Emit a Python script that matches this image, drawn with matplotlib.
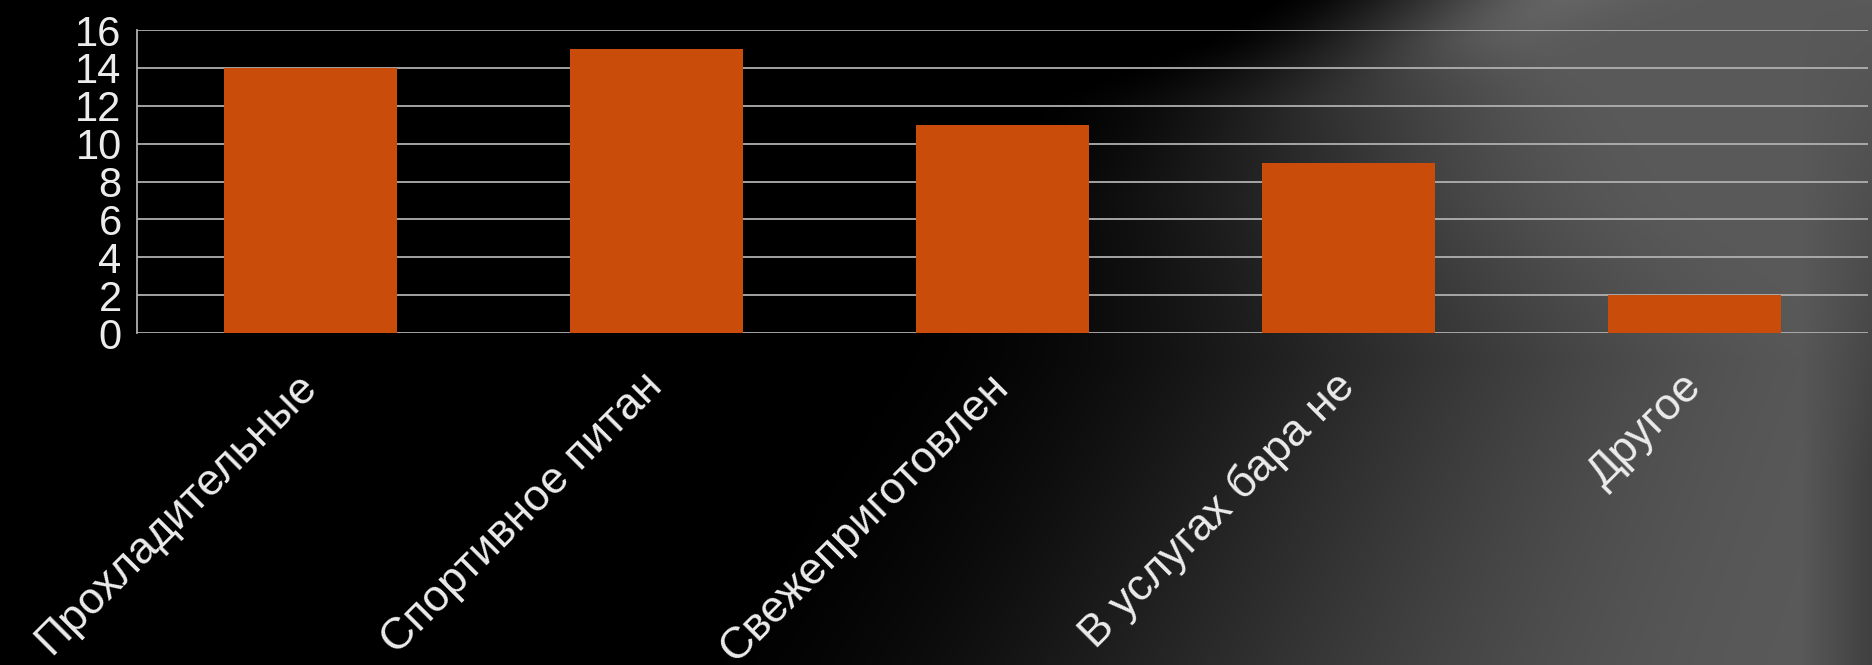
import numpy as np
import matplotlib
matplotlib.use('Agg')
import matplotlib.pyplot as plt

# data
categories = ['Прохладительные', 'Спортивное питан', 'Свежеприготовлен',
              'В услугах бара не', 'Другое']
values = [14, 15, 11, 9, 2]
y_ticks = [0, 2, 4, 6, 8, 10, 12, 14, 16]

plt.rcParams['font.family'] = ['Liberation Sans', 'DejaVu Sans']

W, H = 1872, 665
fig = plt.figure(figsize=(W / 100, H / 100), dpi=100)

# background: black on the left, soft grey gradient to the right
yy, xx = np.mgrid[0:H, 0:W].astype(float)
x0 = np.interp(yy, [0, 40, 100, 200, 360, 665], [1260, 1190, 1020, 920, 850, 650])
w = np.interp(yy, [0, 40, 100, 360, 665], [300, 350, 600, 1050, 1150])
s = np.clip((xx - x0) / w, 0, 1)
s = s * s * (3 - 2 * s)
v = 0.35 * s
# faint light streak near the top right
streak = np.exp(-(((xx - 1560) + 2.2 * yy) / 90.0) ** 2) * np.exp(-yy / 80.0)
v += 0.04 * streak
# darker right edge
v -= 0.10 * np.clip((xx - 1800) / 72, 0, 1) * np.clip(yy / H * 1.4, 0, 1)
v = np.clip(v, 0, 1)
bg = fig.add_axes([0, 0, 1, 1], zorder=-10)
bg.imshow(np.dstack([v, v, v]), aspect='auto', extent=[0, W, H, 0])
bg.axis('off')

ax = fig.add_axes([137 / W, 1 - 333 / H, (1868 - 137) / W, (333 - 30) / H])
ax.patch.set_alpha(0)

x = np.arange(len(categories))
ax.bar(x, values, width=0.5, color='#c94c0b', zorder=3)

ax.set_xlim(-0.5, len(categories) - 0.5)
ax.set_ylim(0, 16)
ax.set_yticks(y_ticks)
ax.set_yticklabels([str(v) for v in y_ticks])
ax.yaxis.grid(True, color='#b0b0b0', linewidth=1.3, zorder=1)
ax.set_axisbelow(True)

for side in ['top', 'right', 'bottom']:
    ax.spines[side].set_visible(False)
ax.spines['left'].set_color('#b0b0b0')
ax.spines['left'].set_linewidth(1.3)

ax.tick_params(axis='y', length=0, pad=11, labelsize=30, labelcolor='#ececec')
ax.tick_params(axis='x', length=0, pad=34, labelsize=32, labelcolor='#ececec')

ax.set_xticks(x)
ax.set_xticklabels(categories, rotation=45, ha='right', va='center',
                   rotation_mode='anchor')

fig.savefig('out.png', dpi=100)
